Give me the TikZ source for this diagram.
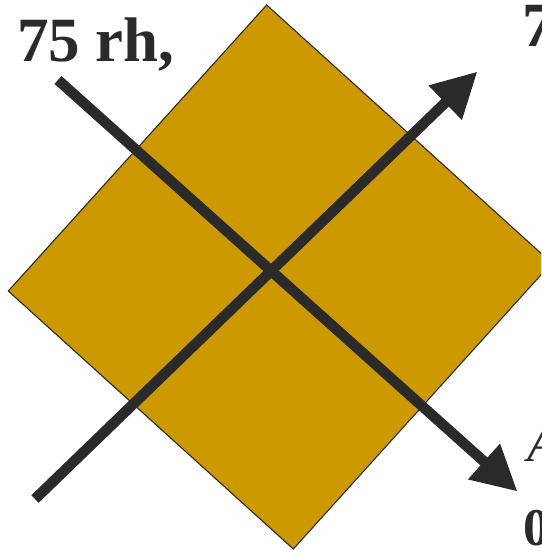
\documentclass[tikz,border=0pt]{standalone}
\usepackage{fontspec}
\setmainfont{Liberation Serif}
\usetikzlibrary{arrows.meta}
\definecolor{gold}{HTML}{CC9900}
\definecolor{ink}{HTML}{2A2A2A}
\tikzset{
  plate/.style={fill=gold,draw=ink,line width=1.1pt,line join=miter},
  flowarrow/.style={draw=ink,line width=10.5pt,line cap=butt,-{Triangle[length=45pt,width=45pt]}},
  bigbold/.style={inner sep=0pt,outer sep=0pt,anchor=base west,text=ink,font=\fontsize{63}{70}\selectfont\bfseries},
  smallit/.style={inner sep=0pt,outer sep=0pt,anchor=base west,text=ink,font=\fontsize{53.5}{60}\selectfont\itshape},
  smallbold/.style={inner sep=0pt,outer sep=0pt,anchor=base west,text=ink,font=\fontsize{53}{60}\selectfont\bfseries}
}
\begin{document}
\begin{tikzpicture}[x=1pt,y=-1pt]
\useasboundingbox (0,0) rectangle (541,551);
\clip (0,0) rectangle (541,551);
% square plate
\coordinate (T) at (266.7,5);
\coordinate (R) at (551.7,263);
\coordinate (B) at (293.3,549);
\coordinate (L) at (8.3,291);
\path[plate] (T) -- (R) -- (B) -- (L) -- cycle;
% arrows
\coordinate (a1s) at (58,80);
\coordinate (a1e) at (517.5,491.5);
\coordinate (a2s) at (35,499);
\coordinate (a2e) at (477.5,71.5);
\draw[flowarrow] (a1s) -- (a1e);
\draw[flowarrow] (a2s) -- (a2e);
% labels
\node[bigbold] (lab1) at (17,62) {75 rh,};
\node[bigbold] (lab2) at (522,46.5) {7};
\node[smallit] (lab3) at (527.5,461.7) {A};
\node[smallbold] (lab4) at (523.5,545) {0};
\end{tikzpicture}
\end{document}
